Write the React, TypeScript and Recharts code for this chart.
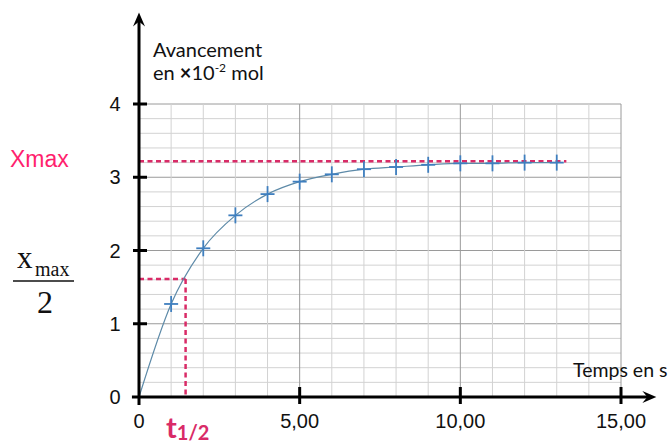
import React from 'react';
import { ComposedChart, Line, XAxis, YAxis, ReferenceLine } from 'recharts';

// ---- data ----
const times = [0, 1, 2, 3, 4, 5, 6, 7, 8, 9, 10, 11, 12, 13];
const avancement = [0, 1.27, 2.03, 2.48, 2.77, 2.94, 3.04, 3.11, 3.14, 3.17, 3.19, 3.19, 3.2, 3.2];
const xTicks = [0, 5, 10, 15];
const yTicks = [0, 1, 2, 3, 4];
const xTickLabels = ['0', '5,00', '10,00', '15,00'];
const gridX = [1, 2, 3, 4, 5, 6, 7, 8, 9, 10, 11, 12, 13, 14, 15];
const gridXMajor = [5, 10, 15];
const gridY = [0.2, 0.4, 0.6, 0.8, 1, 1.2, 1.4, 1.6, 1.8, 2, 2.2, 2.4, 2.6, 2.8, 3, 3.2, 3.4, 3.6, 3.8, 4];
const gridYMajor = [1, 2, 3, 4];
const xMax = 3.22;
const xMaxEnd = 13.3;
const tHalf = 1.45;
const halfValue = 1.61;

const data = times.map((t, i) => ({ t, x: avancement[i] }));

const CRIMSON = '#d92b67';
const SANS = '"Liberation Sans", Arial, sans-serif';
const HUMAN = 'Lato, "Open Sans", sans-serif';

const Cross = (props: any) => {
  const { cx, cy, payload } = props;
  if (payload && payload.t === 0) return <g key={`c${cx}`} />;
  return (
    <g key={`c${cx}-${cy}`}>
      <line x1={cx - 7} y1={cy} x2={cx + 7} y2={cy} stroke="#3f7fbf" strokeWidth={1.8} />
      <line x1={cx} y1={cy - 8} x2={cx} y2={cy + 8} stroke="#3f7fbf" strokeWidth={1.8} />
    </g>
  );
};

const ArrowAxis = (props: any) => {
  const { x1, y1, x2, y2 } = props;
  const dx = x2 - x1;
  const dy = y2 - y1;
  const len = Math.sqrt(dx * dx + dy * dy) || 1;
  const ux = dx / len;
  const uy = dy / len;
  const px = -uy;
  const py = ux;
  const back = 14;
  const notch = 9;
  const half = 6;
  const p = `M ${x2} ${y2} L ${x2 - ux * back + px * half} ${y2 - uy * back + py * half} L ${x2 - ux * notch} ${y2 - uy * notch} L ${x2 - ux * back - px * half} ${y2 - uy * back - py * half} Z`;
  return (
    <g>
      <line x1={x1} y1={y1} x2={x2 - ux * 6} y2={y2 - uy * 6} stroke="#000" strokeWidth={3} />
      <path d={p} fill="#000" />
    </g>
  );
};

const YTick = (props: any) => {
  const { y, payload } = props;
  const ax = props.axisX;
  return (
    <g>
      {payload.value !== 0 && (
        <line x1={ax - 6} y1={y} x2={ax + 8} y2={y} stroke="#000" strokeWidth={3} />
      )}
      <text x={ax - 24} y={y + 7} textAnchor="middle" fontFamily={SANS} fontSize={20} fill="#111">
        {String(payload.value)}
      </text>
    </g>
  );
};

const XTick = (props: any) => {
  const { x, payload } = props;
  const ay = props.axisY;
  const idx = xTicks.indexOf(payload.value);
  return (
    <g>
      {payload.value !== 0 && (
        <line x1={x} y1={ay - 10} x2={x} y2={ay + 7} stroke="#000" strokeWidth={3} />
      )}
      <text x={x} y={ay + 31} textAnchor="middle" fontFamily={SANS} fontSize={20} fill="#111">
        {idx >= 0 ? xTickLabels[idx] : String(payload.value)}
      </text>
    </g>
  );
};

const M_TOP = 104;
const M_LEFT = 99;
const Y_W = 40;
const X_H = 40;
const M_BOTTOM = 6;
const H = 443;

export default function App() {
  return (
    <div style={{ position: 'absolute', left: 0, top: 0, width: 671, height: 443, background: '#fff' }}>
      <ComposedChart
        width={671}
        height={H}
        data={data}
        margin={{ top: M_TOP, right: 50, bottom: M_BOTTOM, left: M_LEFT }}
      >
        <XAxis
          dataKey="t"
          type="number"
          domain={[0, 15]}
          ticks={xTicks}
          height={X_H}
          axisLine={false}
          tickLine={false}
          tick={<XTick axisY={H - M_BOTTOM - X_H} />}
          interval={0}
        />
        <YAxis
          type="number"
          domain={[0, 4]}
          ticks={yTicks}
          width={Y_W}
          axisLine={false}
          tickLine={false}
          tick={<YTick axisX={M_LEFT + Y_W} />}
          interval={0}
        />
        {gridY.map((v) => (
          <ReferenceLine
            key={`gy${v}`}
            y={v}
            stroke={gridYMajor.includes(v) ? '#9a9a9a' : '#d2d2d2'}
            strokeWidth={1}
          />
        ))}
        {gridX.map((v) => (
          <ReferenceLine
            key={`gx${v}`}
            x={v}
            stroke={gridXMajor.includes(v) ? '#9a9a9a' : '#d2d2d2'}
            strokeWidth={1}
          />
        ))}
        <ReferenceLine
          segment={[{ x: 0, y: xMax }, { x: xMaxEnd, y: xMax }]}
          stroke={CRIMSON}
          strokeWidth={2.5}
          strokeDasharray="5 3.5"
          ifOverflow="visible"
        />
        <ReferenceLine
          segment={[{ x: 0, y: halfValue }, { x: tHalf, y: halfValue }]}
          stroke={CRIMSON}
          strokeWidth={2.5}
          strokeDasharray="5 3.5"
          ifOverflow="visible"
        />
        <ReferenceLine
          segment={[{ x: tHalf, y: halfValue }, { x: tHalf, y: 0 }]}
          stroke={CRIMSON}
          strokeWidth={2.5}
          strokeDasharray="5 3.5"
          ifOverflow="visible"
        />
        <Line
          dataKey="x"
          type="monotone"
          stroke="#5d8aa8"
          strokeWidth={1.2}
          dot={<Cross />}
          activeDot={false}
          isAnimationActive={false}
        />
        <ReferenceLine
          segment={[{ x: -0.22, y: 0 }, { x: 16.1, y: 0 }]}
          ifOverflow="visible"
          shape={<ArrowAxis />}
        />
        <ReferenceLine
          segment={[{ x: 0, y: -0.11 }, { x: 0, y: 5.25 }]}
          ifOverflow="visible"
          shape={<ArrowAxis />}
        />
      </ComposedChart>
      <svg
        width={671}
        height={443}
        style={{ position: 'absolute', left: 0, top: 0, pointerEvents: 'none' }}
      >
        <text x={153} y={57} fontFamily={HUMAN} fontSize={20} fill="#111">Avancement</text>
        <text x={153} y={80} fontFamily={HUMAN} fontSize={20} fill="#111">
          en <tspan fontWeight="bold">×</tspan>10<tspan fontSize={12} dy={-8}>-2</tspan>
          <tspan dy={8}> mol</tspan>
        </text>
        <text x={573} y={377} fontFamily={HUMAN} fontSize={19.5} fill="#111">Temps en s</text>
        <text x={10} y={167} fontFamily={SANS} fontSize={23} fill="#ff1f6e">Xmax</text>
        <text x={17} y={268} fontFamily='"Liberation Serif", "Times New Roman", serif' fontSize={31} fill="#111">x</text>
        <text x={35} y={276} fontFamily='"Liberation Serif", "Times New Roman", serif' fontSize={20} fill="#111">max</text>
        <line x1={13} y1={281} x2={74} y2={281} stroke="#111" strokeWidth={1.5} />
        <text x={37} y={313} fontFamily='"Liberation Serif", "Times New Roman", serif' fontSize={32} fill="#111">2</text>
        <text x={166} y={438} fontFamily={HUMAN} fontWeight="bold" fontSize={29} fill={CRIMSON}>
          t<tspan fontSize={20} dy={2}>1/2</tspan>
        </text>
      </svg>
    </div>
  );
}
